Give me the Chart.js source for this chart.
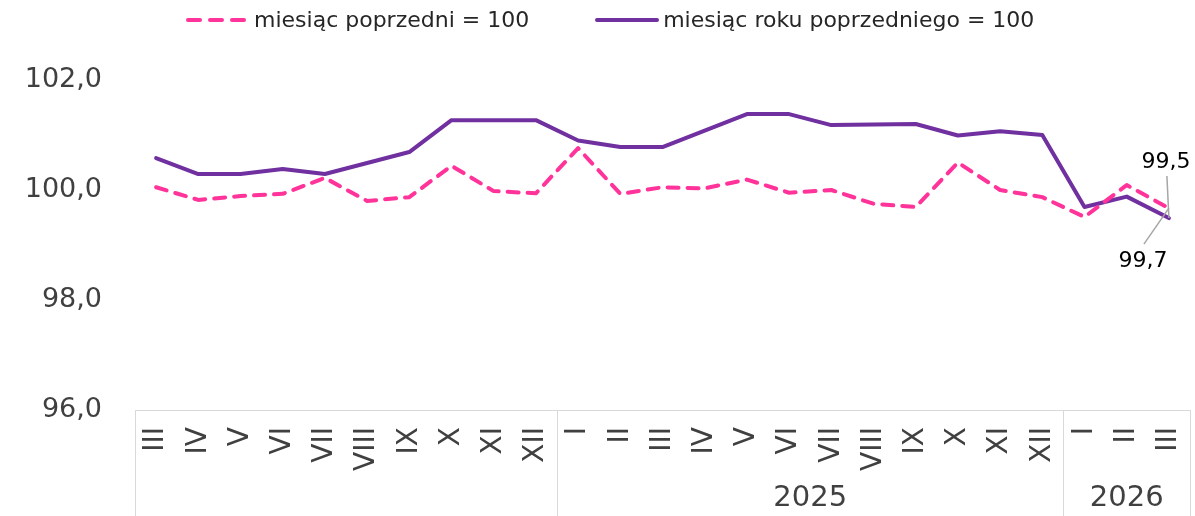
<!DOCTYPE html>
<html lang="pl">
<head>
<meta charset="utf-8">
<script src="https://cdn.jsdelivr.net/npm/chart.js@4.4.1/dist/chart.umd.min.js"></script>
<style>
  html, body { margin: 0; padding: 0; background: #fff; }
  #wrap { position: relative; width: 1195px; height: 516px; }
  #legend {
    position: absolute; top: 7px; left: 186px;
    display: flex; gap: 66px;
    font: 22px "DejaVu Sans", sans-serif; line-height: 26px; color: #262626;
  }
  #legend .item { display: flex; align-items: center; white-space: nowrap; }
</style>
</head>
<body>
<div id="wrap">
  <canvas id="chart" width="1195" height="516"></canvas>
  <div id="legend"></div>
</div>
<script>
// miesiące (III 2024 - III 2026)
const months = ['III', 'IV', 'V', 'VI', 'VII', 'VIII', 'IX', 'X', 'XI', 'XII',
  'I', 'II', 'III', 'IV', 'V', 'VI', 'VII', 'VIII', 'IX', 'X', 'XI', 'XII',
  'I', 'II', 'III'];
// grupy lat pod osią (pierwsza grupa bez podpisu, jak w oryginale)
const yearLabels = ['', '2025', '2026'];
const yearSizes = [10, 12, 3];

const seriesNames = ['miesiąc poprzedni = 100', 'miesiąc roku poprzedniego = 100'];
const prevMonth = [100.05, 99.82, 99.89, 99.93, 100.22, 99.8, 99.87, 100.44, 99.98, 99.94,
  100.76, 99.93, 100.05, 100.03, 100.19, 99.95, 100.0, 99.75, 99.69, 100.5, 100.0, 99.87,
  99.51, 100.09, 99.67];
const prevYear = [100.58, 100.29, 100.29, 100.38, 100.29, 100.49, 100.69, 101.27, 101.27, 101.27,
  100.9, 100.78, 100.78, 101.08, 101.38, 101.38, 101.18, 101.19, 101.2, 100.99, 101.07, 101.0,
  99.69, 99.88, 99.49];

const yTicks = [96, 98, 100, 102];

const pink = '#FF3399';
const purple = '#7030A0';
const fontFamily = '"DejaVu Sans", sans-serif';

const fmt = v => v.toFixed(1).replace('.', ',');

// legenda w HTML (odstęp między pozycjami jak w oryginale)
const legend = document.getElementById('legend');
[[pink, '12 10', 60, 8], [purple, '', 64, 4]].forEach(([color, dash, w, gap], i) => {
  const item = document.createElement('div');
  item.className = 'item';
  item.innerHTML = `<svg width="${w}" height="8" style="margin-right:${gap}px"><line x1="2" y1="4" x2="${w - 2}" y2="4"
    stroke="${color}" stroke-width="4" stroke-linecap="round" ${dash ? `stroke-dasharray="${dash}"` : ''}/></svg><span></span>`;
  item.querySelector('span').textContent = seriesNames[i];
  legend.appendChild(item);
});

// podpisy lat i linie podziału pod osią X
const yearGroups = {
  id: 'yearGroups',
  afterDraw(chart) {
    const { ctx, chartArea, scales: { x } } = chart;
    const half = (x.getPixelForValue(1) - x.getPixelForValue(0)) / 2;
    const edge = k => k <= 0 ? chartArea.left
      : k >= months.length ? chartArea.right
      : x.getPixelForValue(k) - half;
    ctx.save();
    ctx.strokeStyle = '#d9d9d9';
    ctx.lineWidth = 1;
    ctx.fillStyle = '#404040';
    ctx.font = '29px ' + fontFamily;
    ctx.textAlign = 'center';
    ctx.textBaseline = 'middle';
    let k = 0;
    const edges = [0];
    yearSizes.forEach(n => { k += n; edges.push(k); });
    edges.forEach(e => {
      const px = Math.round(edge(e)) + 0.5;
      ctx.beginPath();
      ctx.moveTo(px, chartArea.bottom);
      ctx.lineTo(px, chart.height);
      ctx.stroke();
    });
    yearLabels.forEach((label, i) => {
      if (!label) return;
      ctx.fillText(label, (edge(edges[i]) + edge(edges[i + 1])) / 2, 498);
    });
    ctx.restore();
  }
};

// etykiety ostatnich wartości z liniami odniesienia
const endLabels = {
  id: 'endLabels',
  afterDatasetsDraw(chart) {
    const ctx = chart.ctx;
    const last = months.length - 1;
    // [dataset, przesunięcie tekstu, początek linii]
    const spots = [
      [1, [-3, -56], [-2, -42]],
      [0, [-26, 53], [-25, 36]]
    ];
    ctx.save();
    spots.forEach(([di, t, l]) => {
      const pt = chart.getDatasetMeta(di).data[last];
      ctx.strokeStyle = '#a6a6a6';
      ctx.lineWidth = 1.5;
      ctx.beginPath();
      ctx.moveTo(pt.x + l[0], pt.y + l[1]);
      ctx.lineTo(pt.x, pt.y);
      ctx.stroke();
      ctx.fillStyle = '#000';
      ctx.font = '22px ' + fontFamily;
      ctx.textAlign = 'center';
      ctx.textBaseline = 'middle';
      ctx.fillText(fmt(chart.data.datasets[di].data[last]), pt.x + t[0], pt.y + t[1]);
    });
    ctx.restore();
  }
};

new Chart(document.getElementById('chart'), {
  type: 'line',
  data: {
    labels: months,
    datasets: [
      {
        label: seriesNames[0],
        data: prevMonth,
        borderColor: pink,
        borderWidth: 4,
        borderDash: [11, 9],
        borderCapStyle: 'round',
        borderJoinStyle: 'round',
        pointRadius: 0,
        tension: 0
      },
      {
        label: seriesNames[1],
        data: prevYear,
        borderColor: purple,
        borderWidth: 4,
        borderJoinStyle: 'round',
        borderCapStyle: 'round',
        pointRadius: 0,
        tension: 0
      }
    ]
  },
  options: {
    responsive: false,
    animation: false,
    layout: { padding: { top: 80, right: 5, left: 0, bottom: 0 } },
    plugins: {
      legend: { display: false },
      tooltip: { enabled: false }
    },
    scales: {
      x: {
        offset: true,
        grid: { display: false, drawTicks: false },
        border: { display: true, color: '#d9d9d9', width: 1 },
        ticks: {
          autoSkip: false,
          minRotation: 90,
          maxRotation: 90,
          padding: 17,
          color: '#404040',
          font: { family: fontFamily, size: 28 }
        },
        afterFit: scale => {
          scale.height = 106;
          scale.paddingLeft = 0;
          scale.paddingRight = 0;
        }
      },
      y: {
        min: yTicks[0],
        max: yTicks[yTicks.length - 1],
        grid: { display: false, drawTicks: false },
        border: { display: false },
        afterBuildTicks: scale => { scale.ticks = yTicks.map(v => ({ value: v })); },
        ticks: {
          padding: 33,
          color: '#404040',
          font: { family: fontFamily, size: 27 },
          callback: v => fmt(v)
        },
        afterFit: scale => { scale.width = 135; }
      }
    }
  },
  plugins: [yearGroups, endLabels]
});
</script>
</body>
</html>
